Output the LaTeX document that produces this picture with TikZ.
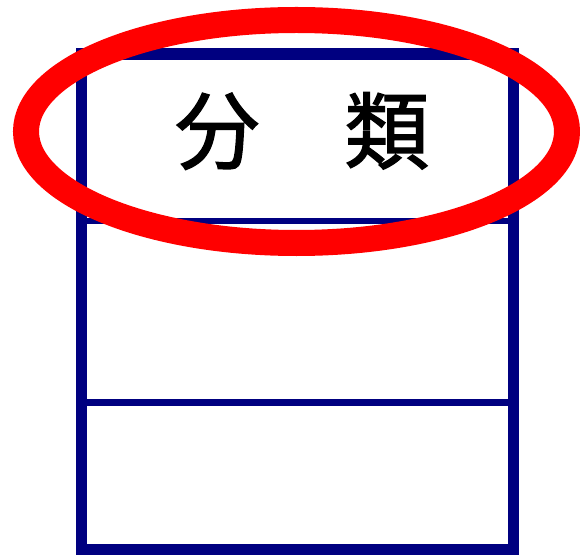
\documentclass[tikz,border=0pt]{standalone}
\usepackage{fontspec}
\newfontfamily\jpfont[FakeBold=1.6]{Noto Sans CJK JP}
\usepackage{tikz}
\definecolor{boxcol}{rgb}{0.0,0.0,0.5}
\definecolor{markcol}{rgb}{1.0,0.0,0.0}

\begin{document}
\begin{tikzpicture}[x=1bp,y=-1bp,line join=miter]
  \useasboundingbox (0,0) rectangle (580,555);
%%
  % Node: box
  \draw [boxcol,line width=11.5bp] (81.5,54) rectangle (513.5,549.5);
  \coordinate (rowa-w) at (81.5,221);
  \coordinate (rowa-e) at (513.5,221);
  \coordinate (rowb-w) at (81.5,402.5);
  \coordinate (rowb-e) at (513.5,402.5);
  % Edge: rows
  \draw [boxcol,line width=6bp] (rowa-w) -- (rowa-e);
  \draw [boxcol,line width=7bp] (rowb-w) -- (rowb-e);
  % Node: title
  \node (title) at (302,131) {\jpfont\fontsize{85}{90}\selectfont 分　類};
  % Node: mark
  \draw [markcol,line width=26bp] (296.5,131.5) ellipse (270.5 and 111.5);
%
\end{tikzpicture}
\end{document}
